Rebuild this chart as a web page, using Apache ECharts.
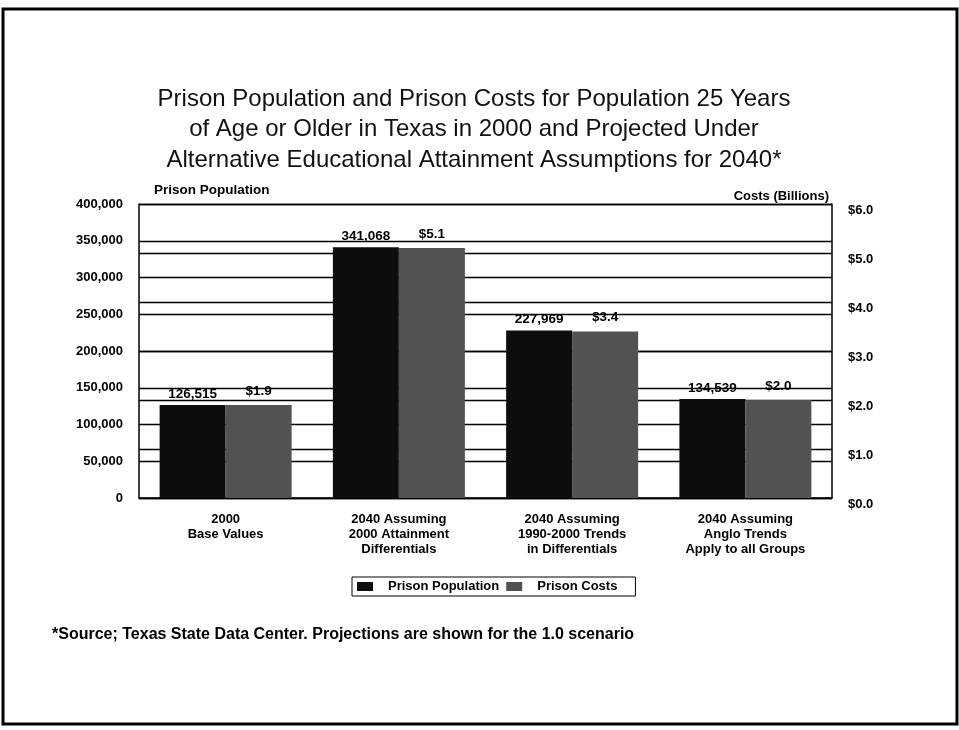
<!DOCTYPE html>
<html>
<head>
<meta charset="utf-8">
<script src="https://cdn.jsdelivr.net/npm/echarts@6/dist/echarts.min.js"></script>
<style>
html,body{margin:0;padding:0;background:#fff;}
#chart{width:959px;height:730px;}
</style>
</head>
<body>
<div id="chart"></div>
<script>
var categories = [
  "2000\nBase Values",
  "2040 Assuming\n2000 Attainment\nDifferentials",
  "2040 Assuming\n1990-2000 Trends\nin Differentials",
  "2040 Assuming\nAnglo Trends\nApply to all Groups"
];
var prisonPopulation = [126515, 341068, 227969, 134539];
var prisonCosts = [1.9, 5.1, 3.4, 2.0];
var seriesNames = ["Prison Population", "Prison Costs"];
var titleText = "Prison Population and Prison Costs for Population 25 Years\nof Age or Older in Texas in 2000 and Projected Under\nAlternative Educational Attainment Assumptions for 2040*";
var footnote = "*Source; Texas State Data Center. Projections are shown for the 1.0 scenario";

var FONT = "Liberation Sans, Arial, sans-serif";
var chart = echarts.init(document.getElementById('chart'), null, {renderer: 'canvas'});
function fmtNum(v){ return String(v).replace(/\B(?=(\d{3})+(?!\d))/g, ','); }

chart.setOption({
  animation: false,
  backgroundColor: '#fff',
  textStyle: {fontFamily: FONT, color: '#000'},
  title: {
    text: titleText,
    left: 469,
    top: 79,
    textAlign: 'center',
    textStyle: {fontFamily: FONT, fontSize: 24, fontWeight: 'normal', color: '#111', lineHeight: 30.5}
  },
  legend: {
    data: seriesNames,
    left: 352,
    top: 577,
    itemWidth: 16,
    itemHeight: 9,
    itemGap: 7,
    icon: 'rect',
    borderColor: '#000',
    borderWidth: 1,
    padding: [3, 18, 3, 5],
    textStyle: {fontFamily: FONT, fontSize: 13, fontWeight: 'bold', color: '#000', padding: [0, 0, 0, 10]}
  },
  grid: {left: 139, right: 127, top: 204, bottom: 232, containLabel: false},
  xAxis: {
    type: 'category',
    data: categories,
    axisLine: {show: true, lineStyle: {color: '#000', width: 1.5}},
    axisTick: {show: false},
    axisLabel: {interval: 0, margin: 14, fontFamily: FONT, fontSize: 13, fontWeight: 'bold', color: '#000', lineHeight: 15}
  },
  yAxis: [
    {
      type: 'value', min: 0, max: 400000, interval: 50000,
      name: 'Prison Population', nameLocation: 'end', nameGap: 7,
      nameTextStyle: {fontFamily: FONT, fontSize: 13.5, fontWeight: 'bold', color: '#000', align: 'left', verticalAlign: 'bottom', padding: [0, 0, 0, 15]},
      axisLine: {show: true, lineStyle: {color: '#000', width: 1.5}},
      axisTick: {show: false},
      splitLine: {show: true, lineStyle: {color: '#000', width: 1.3}},
      axisLabel: {margin: 16, fontFamily: FONT, fontSize: 13, fontWeight: 'bold', color: '#000', formatter: fmtNum}
    },
    {
      type: 'value', min: 0, max: 6, interval: 1,
      name: 'Costs (Billions)', nameLocation: 'end', nameGap: 1,
      nameTextStyle: {fontFamily: FONT, fontSize: 13, fontWeight: 'bold', color: '#000', align: 'right', verticalAlign: 'bottom', padding: [0, 3, 0, 0]},
      axisLine: {show: true, lineStyle: {color: '#000', width: 1.5}},
      axisTick: {show: false},
      splitLine: {show: true, lineStyle: {color: '#000', width: 1.3}},
      axisLabel: {margin: 16, fontFamily: FONT, fontSize: 13, fontWeight: 'bold', color: '#000', verticalAlign: 'top', formatter: function(v){ return '$' + v.toFixed(1); }}
    }
  ],
  series: [
    {
      name: seriesNames[0], type: 'bar', yAxisIndex: 0, data: prisonPopulation,
      barWidth: 66, barGap: '0%',
      itemStyle: {color: '#0d0d0d'},
      label: {show: true, position: 'top', distance: 4, fontFamily: FONT, fontSize: 13.5, fontWeight: 'bold', color: '#000', formatter: function(p){ return fmtNum(p.value); }}
    },
    {
      name: seriesNames[1], type: 'bar', yAxisIndex: 1, data: prisonCosts,
      barWidth: 66, barGap: '0%',
      itemStyle: {color: '#525252'},
      label: {show: true, position: 'top', distance: 7, fontFamily: FONT, fontSize: 13.5, fontWeight: 'bold', color: '#000', formatter: function(p){ return '$' + p.value.toFixed(1); }}
    }
  ],
  graphic: [
    {type: 'rect', shape: {x: 3, y: 9, width: 954, height: 715}, style: {fill: 'none', stroke: '#000', lineWidth: 3}, silent: true},
    {type: 'text', left: 52, top: 627, style: {text: footnote, font: 'bold 16px ' + FONT, fill: '#000'}}
  ]
});
</script>
</body>
</html>
